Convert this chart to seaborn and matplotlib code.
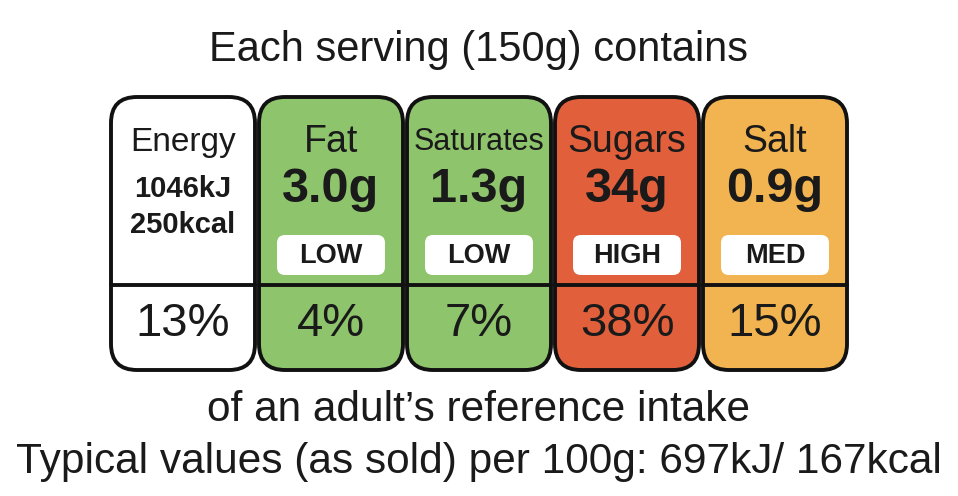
import matplotlib
matplotlib.use("Agg")
import matplotlib.pyplot as plt
from matplotlib.patches import FancyBboxPatch
import seaborn as sns

names = ["Energy", "Fat", "Saturates", "Sugars", "Salt"]
amounts = ["1046kJ\n250kcal", "3.0g", "1.3g", "34g", "0.9g"]
levels = ["", "LOW", "LOW", "HIGH", "MED"]
percents = ["13%", "4%", "7%", "38%", "15%"]
colors = ["#FFFFFF", "#8DC46C", "#8DC46C", "#E1603B", "#F2B450"]

sns.set_theme(style="white")
plt.rcParams["font.family"] = "Liberation Sans"
plt.rcParams["text.color"] = "#1a1a1a"
fig = plt.figure(figsize=(9.58, 4.96), dpi=100)
ax = fig.add_axes([0, 0, 1, 1])
ax.set_xlim(0, 958); ax.set_ylim(496, 0); ax.axis("off")

ax.text(479, 50, "Each serving (150g) contains", ha="center", va="center", fontsize=30)
x0, w, gap = 111, 144, 4
top, bot, div = 97, 370, 285
for i, n in enumerate(names):
    x = x0 + i * (w + gap)
    cx = x + w / 2
    ax.add_patch(FancyBboxPatch((x, top), w, bot - top, boxstyle="round,pad=0,rounding_size=26",
                                fc=colors[i], ec="#111111", lw=2.8))
    ax.plot([x, x + w], [div, div], color="#111111", lw=2.8)
    if i == 0:
        ax.text(cx, 142, n, ha="center", va="center", fontsize=24)
        ax.text(cx, 207, amounts[i], ha="center", va="center", fontsize=21, fontweight="bold", linespacing=1.35)
    else:
        ax.text(cx, 142, n, ha="center", va="center", fontsize=22 if n == "Saturates" else 27)
        ax.text(cx, 190, amounts[i], ha="center", va="center", fontsize=35, fontweight="bold")
        ax.add_patch(FancyBboxPatch((cx - 54, 235), 108, 40, boxstyle="round,pad=0,rounding_size=8",
                                    fc="white", ec="none"))
        ax.text(cx, 256, levels[i], ha="center", va="center", fontsize=19.5, fontweight="bold")
    ax.text(cx, 324, percents[i], ha="center", va="center", fontsize=34)

ax.text(479, 410, "of an adult\u2019s reference intake", ha="center", va="center", fontsize=30.5)
ax.text(479, 462, "Typical values (as sold) per 100g: 697kJ/ 167kcal", ha="center", va="center", fontsize=30.5)
fig.savefig("out.png", dpi=100)
